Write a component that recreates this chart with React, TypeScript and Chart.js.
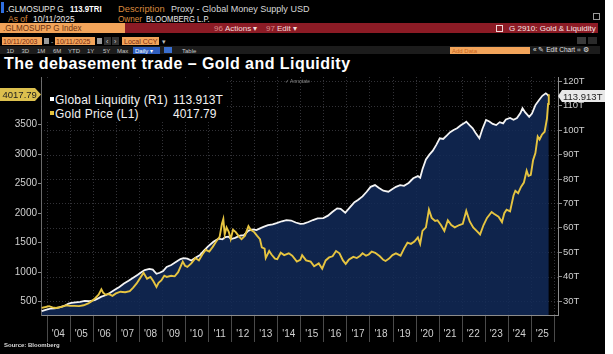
import React, { useEffect, useRef } from 'react';
import { Chart, registerables } from 'chart.js';
Chart.register(...registerables);

// ---------- data ----------
const liqDates = [2003.78,2003.95,2004.15,2004.35,2004.55,2004.75,2004.95,2005.07,2005.25,2005.45,2005.65,2005.85,2006.08,2006.25,2006.37,2006.55,2006.75,2006.95,2007.15,2007.35,2007.55,2007.75,2007.95,2008.1,2008.25,2008.45,2008.6,2008.76,2008.9,2009.05,2009.2,2009.4,2009.6,2009.8,2009.93,2010.1,2010.27,2010.45,2010.65,2010.85,2011.0,2011.23,2011.45,2011.62,2011.75,2011.88,2012.0,2012.17,2012.38,2012.55,2012.75,2012.95,2013.1,2013.25,2013.4,2013.6,2013.8,2013.97,2014.2,2014.4,2014.6,2014.8,2015.0,2015.15,2015.35,2015.55,2015.75,2016.0,2016.2,2016.4,2016.6,2016.75,2016.95,2017.15,2017.35,2017.5,2017.7,2017.88,2018.05,2018.24,2018.4,2018.6,2018.82,2019.0,2019.15,2019.33,2019.5,2019.7,2019.9,2020.1,2020.2,2020.3,2020.45,2020.6,2020.75,2020.9,2021.05,2021.2,2021.35,2021.5,2021.65,2021.8,2021.95,2022.1,2022.2,2022.35,2022.48,2022.6,2022.77,2022.9,2023.06,2023.2,2023.35,2023.5,2023.65,2023.8,2023.92,2024.1,2024.25,2024.4,2024.55,2024.64,2024.75,2024.93,2025.05,2025.2,2025.36,2025.5,2025.65,2025.72,2025.78];
const liqValues = [25.9,26.4,26.9,27.0,27.4,28.0,29.0,29.3,29.5,29.7,30.1,30.0,30.4,31.2,31.8,32.4,33.4,34.6,35.8,37.2,38.3,39.6,40.8,41.8,42.7,43.2,42.9,41.2,41.6,42.3,44.0,44.8,46.0,47.2,47.6,47.4,46.6,47.8,48.9,51.0,52.4,54.3,55.6,55.3,56.2,56.4,55.4,55.9,56.8,57.0,58.9,59.4,59.1,59.8,60.4,61.1,61.4,61.9,62.7,63.2,63.0,62.2,61.6,61.7,62.4,63.2,63.9,64.0,65.0,66.6,68.0,67.8,66.2,68.4,70.5,71.4,72.9,74.8,76.8,77.5,76.4,75.2,74.8,75.9,76.8,77.5,77.2,78.4,80.3,81.2,80.5,84.0,88.0,90.0,91.6,94.0,96.7,96.4,97.8,99.2,100.1,100.8,101.9,102.8,103.5,102.0,100.8,99.0,96.7,100.5,104.2,103.6,102.6,102.1,103.3,102.8,104.4,105.0,104.3,105.0,107.0,109.0,107.4,105.5,106.8,110.3,112.4,114.1,115.1,114.6,113.913];

const goldDates = [2003.78,2003.95,2004.1,2004.25,2004.4,2004.6,2004.85,2005.0,2005.2,2005.4,2005.6,2005.8,2005.95,2006.1,2006.25,2006.37,2006.45,2006.55,2006.7,2006.85,2007.0,2007.2,2007.4,2007.6,2007.75,2007.9,2008.05,2008.2,2008.35,2008.5,2008.62,2008.76,2008.85,2008.97,2009.1,2009.2,2009.4,2009.55,2009.7,2009.9,2010.0,2010.1,2010.27,2010.45,2010.6,2010.75,2010.9,2011.05,2011.2,2011.35,2011.5,2011.6,2011.66,2011.72,2011.8,2011.9,2011.98,2012.08,2012.2,2012.35,2012.45,2012.6,2012.75,2012.85,2013.0,2013.12,2013.25,2013.33,2013.45,2013.5,2013.65,2013.75,2013.9,2014.0,2014.15,2014.3,2014.5,2014.65,2014.85,2015.0,2015.08,2015.25,2015.45,2015.6,2015.8,2015.95,2016.1,2016.25,2016.4,2016.55,2016.7,2016.85,2016.97,2017.1,2017.3,2017.45,2017.6,2017.7,2017.85,2017.97,2018.1,2018.25,2018.45,2018.6,2018.7,2018.85,2019.0,2019.15,2019.35,2019.5,2019.65,2019.8,2019.95,2020.1,2020.2,2020.3,2020.45,2020.58,2020.7,2020.85,2020.95,2021.1,2021.25,2021.4,2021.55,2021.7,2021.9,2022.05,2022.2,2022.35,2022.5,2022.65,2022.8,2022.95,2023.1,2023.3,2023.4,2023.6,2023.75,2023.85,2023.95,2024.1,2024.25,2024.33,2024.45,2024.58,2024.7,2024.82,2024.9,2025.0,2025.1,2025.2,2025.3,2025.38,2025.48,2025.6,2025.7,2025.75,2025.78];
const goldValues = [395,410,425,405,395,410,440,430,430,425,440,470,510,560,620,710,650,620,630,600,640,670,660,680,740,810,900,990,890,920,850,750,820,860,940,920,940,930,1000,1180,1110,1090,1150,1240,1200,1300,1380,1350,1430,1520,1600,1820,1900,1640,1760,1680,1560,1720,1680,1600,1560,1620,1780,1720,1680,1620,1560,1420,1400,1240,1360,1300,1230,1220,1330,1290,1320,1280,1180,1210,1290,1200,1180,1100,1150,1060,1200,1250,1270,1360,1320,1200,1140,1210,1260,1240,1280,1320,1280,1300,1350,1330,1270,1210,1190,1230,1290,1320,1280,1400,1500,1480,1520,1590,1480,1700,1760,2060,1920,1870,1880,1800,1700,1880,1800,1760,1800,1820,2040,1860,1760,1700,1640,1800,1920,2020,1990,1940,1850,2000,2060,2030,2300,2380,2340,2450,2520,2720,2630,2650,2900,3020,3300,3250,3330,3380,3600,3850,4017.79];

const years = [2004,2005,2006,2007,2008,2009,2010,2011,2012,2013,2014,2015,2016,2017,2018,2019,2020,2021,2022,2023,2024,2025];
const goldTicks = [500,1000,1500,2000,2500,3000,3500];
const liqTicks = [30,40,50,60,70,80,90,100,110,120];
const lastGold = '4017.79';
const lastLiq = '113.913T';

const SANS = '"Liberation Sans", Arial, sans-serif';

const T = ({ x, y, c = '#dcdcdc', s = 9.5, b = false, f = SANS, sx = 1, ls = 0, children }: any) => (
  <span style={{ position: 'absolute', left: x, top: y, color: c, fontSize: s, fontWeight: b ? 700 : 400, fontFamily: f, lineHeight: 1, whiteSpace: 'nowrap', letterSpacing: ls, transform: sx !== 1 ? `scaleX(${sx})` : undefined, transformOrigin: 'left top', display: 'inline-block' }}>{children}</span>
);
const B = ({ x, y, w, h, bg, style }: any) => (
  <div style={{ position: 'absolute', left: x, top: y, width: w, height: h, background: bg, ...(style || {}) }} />
);

const gridPlugin = {
  id: 'bbgGrid',
  beforeDatasetsDraw(chart: any) {
    const { ctx, chartArea: a, scales } = chart;
    const xs = scales.x, yr = scales.yR;
    ctx.save();
    ctx.strokeStyle = 'rgba(120,120,130,0.42)';
    ctx.lineWidth = 1;
    ctx.setLineDash([1, 2]);
    ctx.beginPath();
    [...years, 2026].forEach((yv) => {
      const px = Math.round(xs.getPixelForValue(yv)) + 0.5;
      ctx.moveTo(px, a.top); ctx.lineTo(px, a.bottom);
    });
    liqTicks.forEach((v) => {
      const py = Math.round(yr.getPixelForValue(v)) + 0.5;
      ctx.moveTo(a.left, py); ctx.lineTo(a.right, py);
    });
    ctx.stroke();
    ctx.restore();
  },
  afterDraw(chart: any) {
    const { ctx, chartArea: a, scales } = chart;
    const xs = scales.x;
    ctx.save();
    ctx.strokeStyle = '#4a4a4a';
    ctx.lineWidth = 1;
    ctx.beginPath();
    [...years, 2026].forEach((yv) => {
      const px = Math.round(xs.getPixelForValue(yv)) + 0.5;
      ctx.moveTo(px, a.bottom + 1); ctx.lineTo(px, a.bottom + 27);
    });
    ctx.stroke();
    ctx.restore();
  },
};

function ChartCanvas() {
  const ref = useRef<HTMLCanvasElement | null>(null);
  useEffect(() => {
    if (!ref.current) return;
    Chart.defaults.font.family = SANS;
    const axisFont = { size: 10, family: SANS };
    const chart = new Chart(ref.current, {
      type: 'line',
      data: {
        datasets: [
          {
            label: 'Global Liquidity (R1)',
            data: liqDates.map((d, i) => ({ x: d, y: liqValues[i] })),
            yAxisID: 'yR',
            borderColor: '#f4f4f4',
            borderWidth: 1.8,
            pointRadius: 0,
            fill: 'start',
            backgroundColor: 'rgba(18,42,88,0.86)',
            order: 1,
          },
          {
            label: 'Gold Price (L1)',
            data: goldDates.map((d, i) => ({ x: d, y: goldValues[i] })),
            yAxisID: 'yL',
            borderColor: '#e6c440',
            borderWidth: 1.9,
            pointRadius: 0,
            fill: false,
            order: 0,
          },
        ],
      },
      options: {
        animation: false,
        responsive: false,
        events: [],
        layout: { padding: { top: 77, left: 0, right: 0, bottom: 0 } },
        plugins: { legend: { display: false }, tooltip: { enabled: false } },
        scales: {
          x: {
            type: 'linear',
            min: 2003.75,
            max: 2026.18,
            afterBuildTicks: (s: any) => { s.ticks = years.map((y) => ({ value: y + 0.5 })); },
            afterFit: (s: any) => { s.height = 39; },
            grid: { display: false },
            border: { display: true, color: '#8c8c8c' },
            ticks: {
              color: '#d0d0d0', font: axisFont, padding: 5, autoSkip: false, maxRotation: 0,
              callback: (v: any) => "'" + String(Math.floor(Number(v))).slice(2),
            },
          },
          yL: {
            position: 'left',
            min: 275,
            max: 4308,
            afterBuildTicks: (s: any) => { s.ticks = goldTicks.map((v) => ({ value: v })); },
            afterFit: (s: any) => { s.width = 41; },
            grid: { drawOnChartArea: false, color: '#8c8c8c', tickLength: 3 },
            border: { display: true, color: '#6a6a6a' },
            ticks: { color: '#d0d0d0', font: axisFont, padding: 1, callback: (v: any) => String(v) },
          },
          yR: {
            position: 'right',
            min: 24.3,
            max: 121.8,
            afterBuildTicks: (s: any) => { s.ticks = liqTicks.map((v) => ({ value: v })); },
            afterFit: (s: any) => { s.width = 55; },
            grid: { drawOnChartArea: false, color: '#8c8c8c', tickLength: 4 },
            border: { display: true, color: '#8c8c8c' },
            ticks: { color: '#d0d0d0', font: { size: 9.5, family: SANS }, padding: 1, callback: (v: any) => v + 'T' },
          },
        },
      },
      plugins: [gridPlugin],
    } as any);
    return () => chart.destroy();
  }, []);
  return <canvas ref={ref} width={613} height={354} style={{ position: 'absolute', left: 0, top: 0, width: 613, height: 354 }} />;
}

export default function App() {
  useEffect(() => { document.body.style.margin = '0'; }, []);
  const OR = '#d98a3e';
  const BOX = '#f2a45a';
  return (
    <div style={{ position: 'fixed', left: 0, top: 0, width: 613, height: 354, background: '#ffffff', overflow: 'hidden' }}>
      <B x={0} y={0} w={605} h={354} bg="#000" />
      {/* row 1 */}
      <B x={1} y={2} w={3} h={11} bg="#2f6fe0" />
      <T x={6} y={3.5} c="#e8e8e8" sx={0.87}>.GLMOSUPP G</T>
      <T x={70} y={3.5} c="#ffffff" b sx={0.82}>113.9TRI</T>
      <T x={118} y={3.5} c={OR} sx={0.98}>Description</T>
      <T x={171} y={3.5} c="#d8d8d8" sx={0.95}>Proxy - Global Money Supply USD</T>
      {/* row 2 */}
      <T x={8} y={13.5} c={OR} sx={0.9}>As of</T>
      <T x={33} y={13.5} c="#e8e8e8" sx={0.89}>10/11/2025</T>
      <T x={118} y={13.5} c={OR} sx={0.86}>Owner</T>
      <T x={146} y={13.5} c="#e8e8e8" sx={0.8}>BLOOMBERG L.P.</T>
      <B x={593} y={13} w={7} h={7} bg="transparent" style={{ border: '1px solid #9a9a9a', boxSizing: 'border-box' }} />
      {/* row 3 */}
      <B x={0} y={23} w={125} h={10} bg={BOX} />
      <T x={3} y={24} c="#6a3212" s={9} sx={0.9}>.GLMOSUPP G Index</T>
      <B x={125} y={23} w={473} h={10} bg="#8c1b25" />
      <T x={214} y={24.5} c="#d98a8a" s={8}>96</T>
      <T x={225} y={24.5} c="#f3dede" s={8}>Actions ▾</T>
      <T x={266} y={24.5} c="#d98a8a" s={8}>97</T>
      <T x={277} y={24.5} c="#f3dede" s={8}>Edit ▾</T>
      <B x={496} y={24.5} w={7} h={7} bg="transparent" style={{ border: '1px solid #f0d8d8', boxSizing: 'border-box' }} />
      <T x={509} y={24.5} c="#f7e6e6" s={8}>G 2910: Gold &amp; Liquidity</T>
      {/* row 4 */}
      <B x={2} y={37} w={40} h={8} bg={BOX} />
      <T x={3} y={37.5} c="#7a2a10" s={7}>10/11/2003</T>
      <B x={44} y={38} w={5} h={6} bg="#9a9a9a" />
      <T x={51} y={37.5} c="#bbb" s={7}>-</T>
      <B x={55} y={37} w={40} h={8} bg={BOX} />
      <T x={56} y={37.5} c="#7a2a10" s={7}>10/11/2025</T>
      <B x={97} y={38} w={5} h={6} bg="#9a9a9a" />
      <B x={104} y={37} w={7} h={8} bg="#333" />
      <B x={112} y={37} w={7} h={8} bg="#333" />
      <T x={106} y={37.5} c="#ccc" s={7}>‹</T>
      <T x={114} y={37.5} c="#ccc" s={7}>›</T>
      <B x={122} y={37} w={37} h={8} bg={BOX} />
      <T x={124} y={37.5} c="#7a2a10" s={7}>Local CCY</T>
      <T x={162} y={37.5} c="#bbb" s={7}>▾</T>
      <B x={577} y={37} w={9} h={7} bg="#3a3a3a" />
      <B x={588} y={37} w={9} h={7} bg="#2a2a2a" />
      {/* row 5 */}
      <B x={0} y={46} w={600} h={8} bg="#1c1c1c" />
      <T x={6.5} y={47.5} c="#c8c8c8" s={6}>1D</T>
      <T x={21.5} y={47.5} c="#c8c8c8" s={6}>3D</T>
      <T x={37} y={47.5} c="#c8c8c8" s={6}>1M</T>
      <T x={53} y={47.5} c="#c8c8c8" s={6}>6M</T>
      <T x={68} y={47.5} c="#c8c8c8" s={6}>YTD</T>
      <T x={87} y={47.5} c="#c8c8c8" s={6}>1Y</T>
      <T x={103} y={47.5} c="#c8c8c8" s={6}>5Y</T>
      <T x={117} y={47.5} c="#c8c8c8" s={6}>Max</T>
      <B x={133} y={46.5} w={27} h={7} bg="#2f5fc0" />
      <T x={135} y={47.5} c="#ffffff" s={6}>Daily ▾</T>
      <B x={164} y={47} w={8} h={6} bg="#3a6fd0" />
      <T x={182} y={47.5} c="#c8c8c8" s={6}>Table</T>
      <B x={450} y={46.5} w={80} h={7} bg={BOX} />
      <T x={452} y={47.5} c="#c8641e" s={6}>Add Data</T>
      <T x={533} y={47} c="#e0e0e0" s={6.5}>«  ✎ Edit Chart  ⌗  ⚙</T>
      {/* title */}
      <T x={4} y={55.5} c="#ffffff" s={16} b ls={0.45}>The debasement trade – Gold and Liquidity</T>
      <ChartCanvas />
      {/* overlays above chart */}
      <T x={285} y={78.5} c="#8a8a8a" s={5}>✓ Annotate</T>
      <B x={43} y={80} w={183} h={41} bg="#000" />
      <B x={50} y={97} w={4} h={4} bg="#ffffff" />
      <T x={55} y={94} c="#f2f2f2" s={12} ls={0.2}>Global Liquidity (R1)</T>
      <T x={173} y={94} c="#f2f2f2" s={12}>{lastLiq}</T>
      <B x={50} y={111} w={4} h={4} bg="#e4c23e" />
      <T x={55} y={108} c="#f2f2f2" s={12} ls={0.2}>Gold Price (L1)</T>
      <T x={173} y={108} c="#f2f2f2" s={12}>{lastGold}</T>
      {/* value tags */}
      <div style={{ position: 'absolute', left: 0, top: 88, width: 41, height: 13, background: '#dcc04e', clipPath: 'polygon(0 0, 35px 0, 41px 50%, 35px 100%, 0 100%)' }} />
      <T x={2.5} y={90} c="#1e1e1e" s={9.5}>{lastGold}</T>
      <div style={{ position: 'absolute', left: 558, top: 90, width: 47, height: 12, background: '#e8e8e8', clipPath: 'polygon(0 50%, 4px 0, 100% 0, 100% 100%, 4px 100%)' }} />
      <T x={563} y={91.5} c="#1e1e1e" s={9.5}>{lastLiq}</T>
      <T x={4} y={342} c="#d8d8d8" s={6} b>Source: Bloomberg</T>
    </div>
  );
}
